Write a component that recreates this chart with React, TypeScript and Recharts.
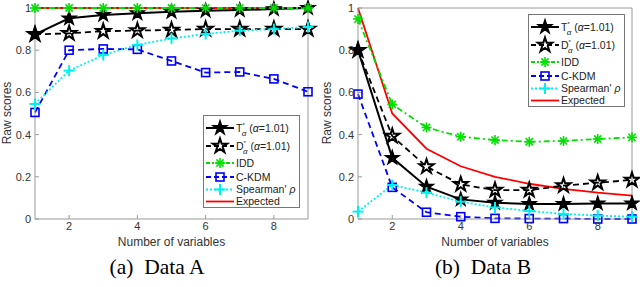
import React from 'react';
import { LineChart, Line, XAxis, YAxis, ReferenceLine } from 'recharts';

// number of variables on the x axis
const variables = [1, 2, 3, 4, 5, 6, 7, 8, 9];

// Data A
const aTsallis = [0.875, 0.951, 0.967, 0.975, 0.982, 0.987, 0.99, 0.995, 1.0];
const aDiv = [0.875, 0.88, 0.89, 0.893, 0.896, 0.9, 0.9, 0.9, 0.9];
const aIdd = [1, 1, 1, 1, 1, 1, 1, 1, 1];
const aCkdm = [0.505, 0.8, 0.806, 0.804, 0.749, 0.694, 0.697, 0.664, 0.603];
const aSpearman = [0.545, 0.703, 0.777, 0.825, 0.856, 0.877, 0.893, 0.9, 0.91];
const aExpected = [1, 1, 1, 1, 1, 1, 1, 1, 1];

// Data B
const bTsallis = [0.8, 0.29, 0.153, 0.093, 0.077, 0.071, 0.071, 0.074, 0.074];
const bDiv = [0.8, 0.393, 0.248, 0.164, 0.137, 0.137, 0.158, 0.172, 0.185];
const bIdd = [0.948, 0.543, 0.434, 0.39, 0.374, 0.366, 0.37, 0.379, 0.387];
const bCkdm = [0.592, 0.15, 0.032, 0.011, 0.003, 0.002, 0.002, 0, 0];
const bSpearman = [0.035, 0.161, 0.125, 0.082, 0.055, 0.038, 0.024, 0.016, 0.011];
const bExpected = [1, 0.5, 0.333, 0.25, 0.2, 0.167, 0.143, 0.125, 0.111];

const xTicks = [2, 4, 6, 8];
const yTicks = [0, 0.2, 0.4, 0.6, 0.8, 1];

type MarkerKind = 'starFilled' | 'starOpen' | 'asterisk' | 'square' | 'plus' | 'none';

const series: { key: string; color: string; dash?: string; marker: MarkerKind }[] = [
  { key: 'tsallis', color: '#000000', marker: 'starFilled' },
  { key: 'div', color: '#000000', dash: '6 4', marker: 'starOpen' },
  { key: 'idd', color: '#00e000', dash: '6 3 2 3', marker: 'asterisk' },
  { key: 'ckdm', color: '#0000ff', dash: '6 4', marker: 'square' },
  { key: 'spearman', color: '#00f0f0', dash: '2 2', marker: 'plus' },
  { key: 'expected', color: '#ff0000', marker: 'none' },
];
// expected drawn underneath the others
const drawOrder = ['expected', 'tsallis', 'div', 'idd', 'ckdm', 'spearman'];

const axisGrey = '#9a9a9a';
const textGrey = '#333333';

const starPath = (cx: number, cy: number, R: number) => {
  const r = R * 0.382;
  let d = '';
  for (let i = 0; i < 10; i++) {
    const rad = i % 2 === 0 ? R : r;
    const a = -Math.PI / 2 + (i * Math.PI) / 5;
    d += (i ? 'L' : 'M') + (cx + rad * Math.cos(a)).toFixed(2) + ',' + (cy + rad * Math.sin(a)).toFixed(2);
  }
  return d + 'Z';
};

const Marker = ({ kind, cx, cy, color }: { kind: MarkerKind; cx: number; cy: number; color: string }) => {
  if (cx == null || cy == null) return null;
  switch (kind) {
    case 'starFilled':
      return <path d={starPath(cx, cy, 7.5)} fill="#000" stroke="#000" strokeWidth={1.2} strokeLinejoin="miter" />;
    case 'starOpen':
      return <path d={starPath(cx, cy, 7.5)} fill="none" stroke="#000" strokeWidth={2} />;
    case 'asterisk':
      return (
        <g stroke={color} strokeWidth={1.6}>
          <line x1={cx - 5} y1={cy} x2={cx + 5} y2={cy} />
          <line x1={cx} y1={cy - 5} x2={cx} y2={cy + 5} />
          <line x1={cx - 3.6} y1={cy - 3.6} x2={cx + 3.6} y2={cy + 3.6} />
          <line x1={cx - 3.6} y1={cy + 3.6} x2={cx + 3.6} y2={cy - 3.6} />
        </g>
      );
    case 'square':
      return <rect x={cx - 4} y={cy - 4} width={8} height={8} fill="none" stroke={color} strokeWidth={1.6} />;
    case 'plus':
      return (
        <g stroke={color} strokeWidth={2}>
          <line x1={cx - 5.5} y1={cy} x2={cx + 5.5} y2={cy} />
          <line x1={cx} y1={cy - 5.5} x2={cx} y2={cy + 5.5} />
        </g>
      );
    default:
      return null;
  }
};

const legendLabel = (key: string, x: number, y: number) => {
  const common = { x, y, fontSize: 10.5, fill: '#222' };
  switch (key) {
    case 'tsallis':
    case 'div':
      return (
        <text {...common}>
          <tspan>{key === 'tsallis' ? 'T' : 'D'}</tspan>
          <tspan dy={-5} fontSize={6}>*</tspan>
          <tspan dx={-3} dy={9} fontSize={8} fontStyle="italic">α</tspan>
          <tspan dy={-4}> (</tspan>
          <tspan fontStyle="italic">α</tspan>
          <tspan>=1.01)</tspan>
        </text>
      );
    case 'idd':
      return <text {...common}>IDD</text>;
    case 'ckdm':
      return <text {...common}>C-KDM</text>;
    case 'spearman':
      return (
        <text {...common}>
          Spearman' <tspan fontStyle="italic">ρ</tspan>
        </text>
      );
    default:
      return <text {...common}>Expected</text>;
  }
};

const legendRows = [13, 31, 48, 62, 74.5, 86.5];

const LegendBox = ({ left, top }: { left: number; top: number }) => (
  <svg style={{ position: 'absolute', left, top }} width={97} height={93}>
    <rect x={0.5} y={0.5} width={96} height={92} fill="#fff" stroke="#777" />
    {series.map((s, i) => (
      <g key={s.key}>
        <line x1={3} y1={legendRows[i]} x2={31} y2={legendRows[i]} stroke={s.color} strokeWidth={s.key === 'tsallis' ? 2 : 1.8} strokeDasharray={s.dash ? (s.key === 'spearman' ? '2 2' : s.key === 'idd' ? '4 2 2 2' : '5 3') : undefined} />
        <Marker kind={s.marker} cx={17} cy={legendRows[i]} color={s.color} />
        {legendLabel(s.key, 33, legendRows[i] + 3.8)}
      </g>
    ))}
  </svg>
);

const buildRows = (vals: Record<string, number[]>) =>
  variables.map((n, i) => {
    const row: Record<string, number> = { n };
    Object.keys(vals).forEach((k) => (row[k] = vals[k][i]));
    return row;
  });

const Panel = ({
  left, yAxisWidth, rightMargin, rows, legendPos, caption, captionCenter,
}: {
  left: number; yAxisWidth: number; rightMargin: number; rows: Record<string, number>[];
  legendPos: { left: number; top: number }; caption: string; captionCenter: number;
}) => (
  <div style={{ position: 'absolute', left, top: 0, width: 320, height: 287 }}>
    <LineChart width={320} height={250} data={rows} margin={{ top: 8, right: rightMargin, bottom: 0, left: 0 }}>
      <XAxis
        dataKey="n" type="number" domain={[1, 9]} ticks={xTicks}
        stroke={axisGrey} tickSize={-4} tickMargin={7} height={31}
        tick={{ fill: textGrey, fontSize: 11 }}
        label={{ value: 'Number of variables', position: 'insideBottom', offset: 4, fill: textGrey, fontSize: 12 }}
      />
      <YAxis
        type="number" domain={[0, 1]} ticks={yTicks} width={yAxisWidth}
        stroke={axisGrey} tickSize={-4} tickMargin={8}
        tick={{ fill: textGrey, fontSize: 11 }}
        label={{
          content: () => (
            <text x={7} y={113} transform="rotate(-90 7 113)" textAnchor="middle" dominantBaseline="central" fill={textGrey} fontSize={12}>
              Raw scores
            </text>
          ),
        }}
      />
      <ReferenceLine x={9} stroke={axisGrey} />
      <ReferenceLine y={1} stroke={axisGrey} />
      {drawOrder.map((k) => {
        const s = series.find((d) => d.key === k)!;
        return (
          <Line
            key={k} dataKey={k} type="linear" stroke={s.color} strokeWidth={s.key === 'tsallis' ? 2 : 1.8}
            strokeDasharray={s.dash} isAnimationActive={false} activeDot={false}
            dot={s.marker === 'none' ? false : (p: any) => <Marker key={`${k}-${p.index}`} kind={s.marker} cx={p.cx} cy={p.cy} color={s.color} />}
          />
        );
      })}
    </LineChart>
    <LegendBox left={legendPos.left} top={legendPos.top} />
    <div
      style={{
        position: 'absolute', left: captionCenter - 100, width: 200, top: 255, textAlign: 'center',
        fontFamily: '"Liberation Serif", "Times New Roman", serif', fontSize: 21.5, whiteSpace: 'pre', color: '#000',
      }}
    >
      {caption}
    </div>
  </div>
);

export default function App() {
  const rowsA = buildRows({ tsallis: aTsallis, div: aDiv, idd: aIdd, ckdm: aCkdm, spearman: aSpearman, expected: aExpected });
  const rowsB = buildRows({ tsallis: bTsallis, div: bDiv, idd: bIdd, ckdm: bCkdm, spearman: bSpearman, expected: bExpected });
  return (
    <div style={{ position: 'absolute', left: 0, top: 0, width: 640, height: 287, background: '#fff', fontFamily: '"Liberation Sans", Arial, sans-serif' }}>
      <Panel left={0} yAxisWidth={35} rightMargin={12} rows={rowsA} legendPos={{ left: 203, top: 115 }} caption="(a)  Data A" captionCenter={157} />
      <Panel left={320} yAxisWidth={38} rightMargin={8} rows={rowsB} legendPos={{ left: 208, top: 14 }} caption="(b)  Data B" captionCenter={163} />
    </div>
  );
}
